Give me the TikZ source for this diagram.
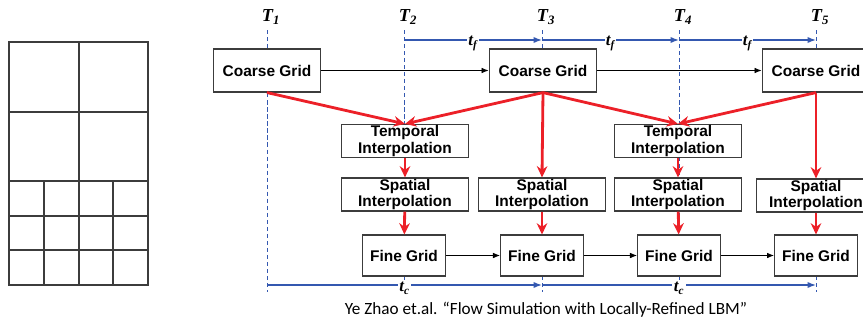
\documentclass[tikz,border=0pt]{standalone}
\usepackage{fontspec}
\setmainfont{Liberation Serif}
\setsansfont{Liberation Sans}
\newfontfamily\captionfont{Carlito}
\usetikzlibrary{arrows.meta}
\definecolor{interpred}{RGB}{236,32,40}
\definecolor{timeblue}{RGB}{52,88,176}
\definecolor{boxgray}{RGB}{60,60,60}
\tikzset{
  gridline/.style={draw=boxgray, line width=0.9pt},
  gridbox/.style={draw=boxgray, line width=0.9pt, fill=white, inner sep=0pt,
    align=center, font=\sffamily\bfseries\fontsize{11}{11.5}\selectfont},
  coarse/.style={gridbox, minimum width=76.5pt, minimum height=30.5pt},
  interpbox/.style={gridbox, minimum width=90.7pt, minimum height=23.4pt},
  fine/.style={gridbox, minimum width=58.8pt, minimum height=29pt},
  timelabel/.style={font=\bfseries\itshape\fontsize{13}{13}\selectfont, inner sep=0pt},
  tlabel/.style={fill=white, inner sep=1pt, yshift=-2.5pt,
    font=\bfseries\itshape\fontsize{12}{12}\selectfont},
  timeline/.style={draw=timeblue, line width=0.5pt, densely dashed},
  timearrow/.style={draw=timeblue, line width=1pt, -{Latex[length=6pt,width=4.5pt]}},
  flow/.style={draw=black, line width=0.6pt, -{Latex[length=5pt,width=4pt]}},
  interp/.style={draw=interpred, line width=2pt, -{Stealth[length=8pt,width=7.5pt]}}
}
\begin{document}
\begin{tikzpicture}[x=0.025cm, y=-0.025cm]
  \clip (0,0) rectangle (863,322);
  % refined grid
  \draw[gridline] (9,42) rectangle (148,285);
  \draw[gridline] (79,42) -- (79,285);
  \draw[gridline] (9,112) -- (148,112);
  \foreach \y in {181,216,250}
    \draw[gridline] (9,\y) -- (148,\y);
  \foreach \x in {44,113}
    \draw[gridline] (\x,181) -- (\x,285);

  % time marks
  \draw
    (271,17) node[timelabel] (T1) {T\textsubscript{1}}
    (408,17) node[timelabel] (T2) {T\textsubscript{2}}
    (546,17) node[timelabel] (T3) {T\textsubscript{3}}
    (683,17) node[timelabel] (T4) {T\textsubscript{4}}
    (820,17) node[timelabel] (T5) {T\textsubscript{5}};
  \coordinate (s1) at (267,30);  \coordinate (e1) at (267,292);
  \coordinate (s2) at (404,30);  \coordinate (e2) at (404,292);
  \coordinate (s3) at (542,30);  \coordinate (e3) at (542,292);
  \coordinate (s4) at (679,30);  \coordinate (e4) at (679,292);
  \coordinate (s5) at (816,30);  \coordinate (e5) at (816,292);
  \draw[timeline] (s1) -- (e1);
  \draw[timeline] (s2) -- (e2);
  \draw[timeline] (s3) -- (e3);
  \draw[timeline] (s4) -- (e4);
  \draw[timeline] (s5) -- (e5);

  \coordinate (f2) at (404,40);
  \coordinate (f3) at (542,40);
  \coordinate (f4) at (679,40);
  \coordinate (f5) at (816,40);
  \coordinate (c1) at (267,285);
  \coordinate (c3) at (542,285);
  \coordinate (c5) at (816,285);
  \draw[timearrow] (f2) -- node[tlabel] {t\textsubscript{f}} (f3);
  \draw[timearrow] (f3) -- node[tlabel] {t\textsubscript{f}} (f4);
  \draw[timearrow] (f4) -- node[tlabel] {t\textsubscript{f}} (f5);
  \draw[timearrow] (c1) -- node[tlabel] {t\textsubscript{c}} (c3);
  \draw[timearrow] (c3) -- node[tlabel] {t\textsubscript{c}} (c5);

  % boxes
  \draw
    (267,70.5) node[coarse] (cg1) {Coarse Grid}
    (543,70.5) node[coarse] (cg2) {Coarse Grid}
    (816,70.5) node[coarse] (cg3) {Coarse Grid}
    (405,141) node[interpbox] (ti1) {Temporal\\Interpolation}
    (678,141) node[interpbox] (ti2) {Temporal\\Interpolation}
    (405,194.5) node[interpbox] (si1) {Spatial\\Interpolation}
    (542,194.5) node[interpbox] (si2) {Spatial\\Interpolation}
    (678,194.5) node[interpbox] (si3) {Spatial\\Interpolation}
    (816,195.5) node[interpbox, minimum width=85pt] (si4) {Spatial\\Interpolation}
    (404,255.5) node[fine] (fg1) {Fine Grid}
    (542,255.5) node[fine] (fg2) {Fine Grid}
    (679,255.5) node[fine] (fg3) {Fine Grid}
    (816,255.5) node[fine] (fg4) {Fine Grid};

  \begin{scope}[flow]
    \draw (cg1) to (cg2);
    \draw (cg2) to (cg3);
    \draw (fg1) to (fg2);
    \draw (fg2) to (fg3);
    \draw (fg3) to (fg4);
  \end{scope}
  \begin{scope}[interp]
    \draw (cg1.south) to (ti1.north);
    \draw (cg2.south) to (ti1.north);
    \draw (cg2.south) to (ti2.north);
    \draw (cg3.south) to (ti2.north);
    \draw (cg2.south) to (si2.north);
    \draw (cg3.south) to (si4.north);
    \draw (ti1) to (si1);
    \draw (si1) to (fg1);
    \draw (si2) to (fg2);
    \draw (ti2) to (si3);
    \draw (si3) to (fg3);
    \draw (si4) to (fg4);
  \end{scope}

  \node[font=\captionfont\fontsize{12.2}{14}\selectfont] (cap) at (546,310)
    {Ye Zhao et.al. “Flow Simulation with Locally-Refined LBM”};
\end{tikzpicture}
\end{document}
